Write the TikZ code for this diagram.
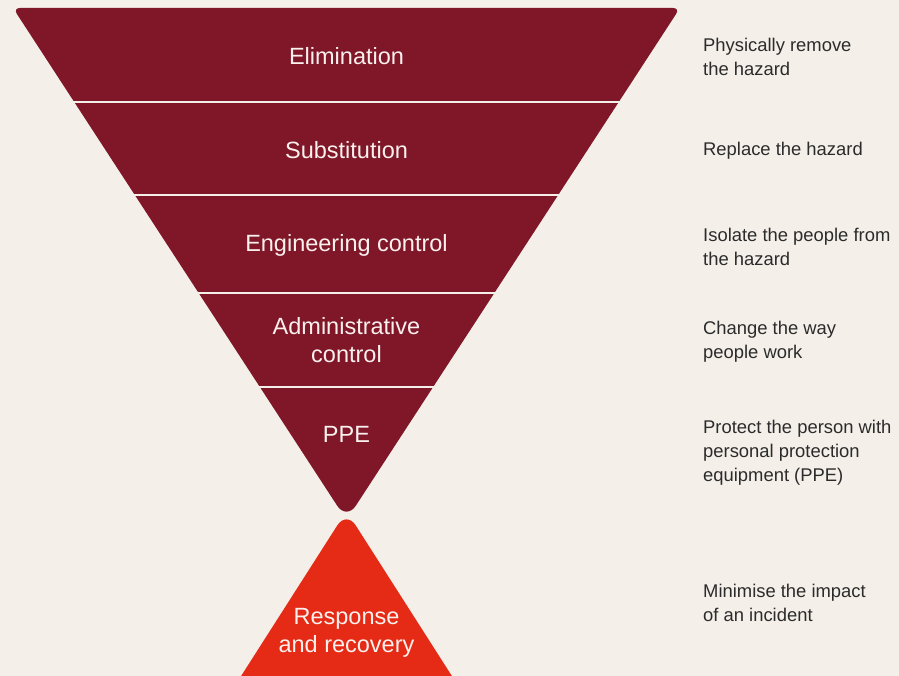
\documentclass[tikz,border=0pt]{standalone}
\usepackage{fontspec}
\setmainfont{Liberation Sans}
\definecolor{bgcream}{HTML}{F4F0E9}
\definecolor{wine}{HTML}{7F1729}
\definecolor{signal}{HTML}{E52B15}
\definecolor{inktext}{HTML}{2B2B2B}
\definecolor{paletext}{HTML}{FAF0EE}
\begin{document}
\begin{tikzpicture}[x=1pt,y=-1pt,
  level/.style={text=paletext,font=\fontsize{23.5}{28}\selectfont,align=center},
  note/.style={text=inktext,font=\fontsize{18.4}{24}\selectfont,align=left,anchor=west,inner sep=0pt},
  divider/.style={draw=bgcream,line width=2.6pt}]
  % page and background
  \fill[bgcream] (0,0) rectangle (899,676);
  \useasboundingbox (0,0) rectangle (899,676);
  \clip (0,0) rectangle (899,676);

  % inverted hierarchy triangle
  \fill[wine] (346.5,8) [rounded corners=7] -- (680,8) [rounded corners=17] -- (346.5,520)
    [rounded corners=7] -- (13,8) -- cycle;
  % band dividers
  \foreach \yy in {102,195,293,387}
    \draw[divider] (0,\yy) -- (700,\yy);

  % response triangle
  \fill[signal] (346.5,684) [rounded corners=8] -- (236,684) [rounded corners=17] -- (346.5,511)
    [rounded corners=8] -- (457,684) -- cycle;

  % level labels
  \node[level] (elim) at (346.5,56.5) {Elimination};
  \node[level] (subst) at (346.5,150.5) {Substitution};
  \node[level] (eng) at (346.5,245.5) {Engineering control};
  \node[level] (admin) at (346.5,340.5) {Administrative\\control};
  \node[level] (ppe) at (346.5,434.5) {PPE};
  \node[level] (resp) at (346.5,632.5) {Response\\and recovery};

  % descriptions
  \node[note] (d1) at (703,57) {Physically remove\\the hazard};
  \node[note] (d2) at (703,151) {Replace the hazard};
  \node[note] (d3) at (703,247) {Isolate the people from\\the hazard};
  \node[note] (d4) at (703,342) {Change the way\\people work};
  \node[note] (d5) at (703,453) {Protect the person with\\personal protection\\equipment (PPE)};
  \node[note] (d6) at (703,603) {Minimise the impact\\of an incident};
\end{tikzpicture}
\end{document}
